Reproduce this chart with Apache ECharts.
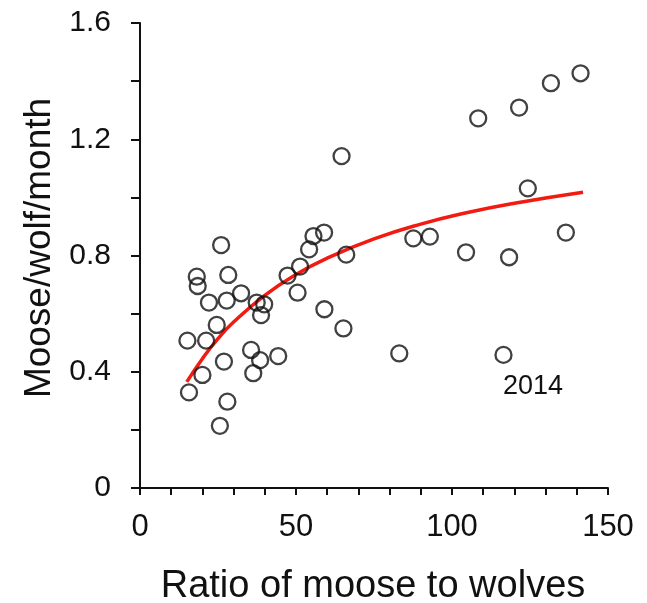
<!DOCTYPE html>
<html>
<head>
<meta charset="utf-8">
<script src="https://cdn.jsdelivr.net/npm/echarts@6/dist/echarts.min.js"></script>
<style>
  html, body { margin: 0; padding: 0; background: #ffffff; }
  #chart { width: 647px; height: 603px; }
</style>
</head>
<body>
<div id="chart"></div>
<script>
// Observed points: ratio of moose to wolves (x) vs kill rate (y)
var ratioX = [26.0, 18.2, 18.5, 28.3, 22.1, 27.8, 32.4, 37.4, 39.8, 38.8,
              24.6, 15.2, 21.2, 47.3, 51.3, 50.5, 35.6, 38.5, 44.3, 26.9,
              36.3, 20.0, 15.7, 28.0, 25.6, 55.6, 59.0, 54.2, 66.1, 59.1,
              65.2, 83.1, 87.6, 92.9, 104.5, 118.3, 136.5, 116.5, 64.6, 108.4,
              121.5, 131.7, 141.2, 124.3];
var killRate = [0.836, 0.727, 0.695, 0.733, 0.638, 0.645, 0.670, 0.638, 0.632, 0.595,
                0.561, 0.507, 0.507, 0.731, 0.762, 0.672, 0.475, 0.440, 0.454, 0.435,
                0.395, 0.389, 0.329, 0.297, 0.214, 0.867, 0.879, 0.821, 0.803, 0.615,
                0.549, 0.463, 0.859, 0.865, 0.811, 0.794, 0.879, 0.458, 1.142, 1.272,
                1.309, 1.393, 1.427, 1.031];

// Fitted curve (red)
var curveX = [15, 20, 25, 30, 40, 50, 60, 75, 90, 105, 120, 142];
var curveY = [0.365, 0.445, 0.514, 0.571, 0.663, 0.735, 0.791, 0.857, 0.908, 0.948, 0.980, 1.018];

var xLabelValues = [0, 50, 100, 150];
var yLabelValues = [0, 0.4, 0.8, 1.2, 1.6];
var annotationText = '2014';

var scatterData = ratioX.map(function (x, i) { return [x, killRate[i]]; });
var curveData = curveX.map(function (x, i) { return [x, curveY[i]]; });

var chart = echarts.init(document.getElementById('chart'), null, { renderer: 'canvas' });
var axisFont = 'Liberation Sans, Arial, sans-serif';

chart.setOption({
  backgroundColor: '#ffffff',
  animation: false,
  grid: { left: 140, right: 39, top: 23, bottom: 115, containLabel: false },
  xAxis: {
    type: 'value', min: 0, max: 150, interval: 10,
    splitLine: { show: false },
    axisLine: { show: true, onZero: false, lineStyle: { color: '#111', width: 2 } },
    axisTick: { show: true, inside: false, length: 7, lineStyle: { color: '#111', width: 2 } },
    axisLabel: {
      margin: 24, color: '#111', fontSize: 31, fontFamily: axisFont,
      showMinLabel: true, showMaxLabel: true,
      formatter: function (v) {
        var r = Math.round(v);
        return xLabelValues.indexOf(r) >= 0 ? String(r) : '';
      }
    }
  },
  yAxis: {
    type: 'value', min: 0, max: 1.6, interval: 0.2,
    splitLine: { show: false },
    axisLine: { show: true, onZero: false, lineStyle: { color: '#111', width: 2 } },
    axisTick: { show: true, inside: false, length: 9, lineStyle: { color: '#111', width: 2 } },
    axisLabel: {
      margin: 29, color: '#111', fontSize: 30, fontFamily: axisFont,
      showMinLabel: true, showMaxLabel: true,
      formatter: function (v) {
        var r = Math.round(v * 10) / 10;
        for (var i = 0; i < yLabelValues.length; i++) {
          if (Math.abs(yLabelValues[i] - r) < 1e-6) return String(yLabelValues[i]);
        }
        return '';
      }
    }
  },
  series: [
    {
      type: 'line',
      data: curveData,
      smooth: true,
      symbol: 'none',
      lineStyle: { color: '#f21b12', width: 3.5 },
      z: 2
    },
    {
      type: 'scatter',
      data: scatterData,
      symbol: 'circle',
      symbolSize: 16,
      itemStyle: { color: 'rgba(255,255,255,0)', borderColor: '#111', borderWidth: 2.3 },
      z: 3
    }
  ],
  graphic: [
    {
      type: 'text',
      x: 373, y: 587,
      style: {
        text: 'Ratio of moose to wolves',
        font: '38px Liberation Sans, Arial, sans-serif',
        fill: '#111', textAlign: 'center', textVerticalAlign: 'middle'
      }
    },
    {
      type: 'text',
      x: 40, y: 248,
      rotation: Math.PI / 2,
      style: {
        text: 'Moose/wolf/month',
        font: '37px Liberation Sans, Arial, sans-serif',
        fill: '#111', textAlign: 'center', textVerticalAlign: 'middle'
      }
    },
    {
      type: 'text',
      x: 533, y: 387,
      style: {
        text: annotationText,
        font: '27px Liberation Sans, Arial, sans-serif',
        fill: '#111', textAlign: 'center', textVerticalAlign: 'middle'
      }
    }
  ]
});
</script>
</body>
</html>
